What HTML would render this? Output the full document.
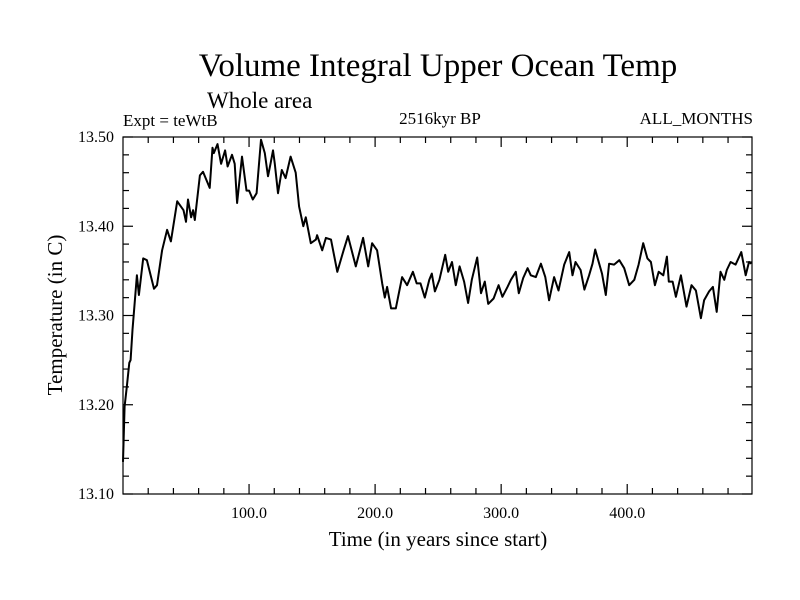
<!DOCTYPE html>
<html><head><meta charset="utf-8"><style>
html,body{margin:0;padding:0;background:#fff;}
svg{display:block;font-family:"Liberation Serif",serif;}
</style></head><body>
<svg id="chart" width="800" height="600" viewBox="0 0 800 600" xmlns="http://www.w3.org/2000/svg">
<rect width="800" height="600" fill="#fff"/>
<text x="438" y="76" font-size="33" text-anchor="middle">Volume Integral Upper Ocean Temp</text>
<text x="207" y="108" font-size="23">Whole area</text>
<text x="123" y="126" font-size="17">Expt = teWtB</text>
<text x="440" y="124" font-size="17" text-anchor="middle">2516kyr BP</text>
<text x="753" y="124" font-size="17" text-anchor="end">ALL_MONTHS</text>
<g id="axes"></g>
<path id="series" fill="none" stroke="#000" stroke-width="2" stroke-linejoin="round"/>
<rect x="123" y="137" width="629" height="357" fill="none" stroke="#000" stroke-width="1.2"/>
<text x="438" y="546" font-size="21" text-anchor="middle">Time (in years since start)</text>
<text x="0" y="0" font-size="21" text-anchor="middle" transform="translate(62,315) rotate(-90)">Temperature (in C)</text>
</svg>
<script>
const years=[0,1.3,3,5,6,7.5,11,12.6,16,19,24.6,27,31,35,38,43,48,50,51.6,54,55.6,57,61,63.5,66.7,68.8,71,72,75,77.8,81,83,86.5,88.6,90.5,94.4,98,100,103,106,109.5,112.5,115,117,119,120.4,123,126,129,133,137,139.7,143,145,149,153,154,158,161,165,170,175,178.5,184.7,190.5,194.5,197.6,201.6,205.6,207.7,209.5,212.7,216.4,221.4,225.4,230,233,236,239.4,243,245,247.4,251,255.6,258,261,264,267,270.6,273.8,276.7,281,284,287,289.7,294,298,301,305,307.7,311.6,314,317.5,321,323.5,327.5,331.5,335,338,342,345.5,350,354,356.6,359,363,366,369.8,372.5,374.6,377,380,383,385.6,389.6,393.7,397.6,401.6,405.6,409,412.7,416,418.8,422,425,428.6,431.5,433,436,438.6,442.6,447,451,454.5,458.5,461,465,468,471,474,477,479,482,486,490.5,494,496.6,498.5];
const temps=[13.136,13.198,13.22,13.247,13.25,13.284,13.345,13.323,13.364,13.362,13.33,13.334,13.373,13.396,13.383,13.428,13.418,13.405,13.43,13.41,13.418,13.407,13.457,13.461,13.45,13.443,13.488,13.482,13.492,13.47,13.485,13.467,13.48,13.47,13.426,13.478,13.44,13.44,13.43,13.437,13.497,13.482,13.456,13.47,13.485,13.47,13.437,13.463,13.454,13.478,13.46,13.422,13.40,13.41,13.381,13.385,13.39,13.373,13.387,13.385,13.349,13.373,13.389,13.355,13.387,13.355,13.381,13.373,13.336,13.32,13.332,13.308,13.308,13.343,13.334,13.349,13.336,13.336,13.32,13.34,13.347,13.327,13.34,13.368,13.349,13.36,13.334,13.355,13.338,13.314,13.34,13.365,13.325,13.338,13.313,13.319,13.334,13.321,13.332,13.34,13.349,13.325,13.342,13.353,13.345,13.343,13.358,13.343,13.317,13.343,13.328,13.357,13.371,13.345,13.36,13.351,13.329,13.345,13.358,13.374,13.362,13.347,13.323,13.358,13.357,13.362,13.353,13.334,13.34,13.357,13.381,13.364,13.36,13.334,13.349,13.345,13.366,13.338,13.338,13.321,13.345,13.31,13.334,13.328,13.297,13.317,13.327,13.332,13.304,13.349,13.34,13.351,13.36,13.357,13.371,13.345,13.36,13.358];
const yTickLabels=["13.10","13.20","13.30","13.40","13.50"];
const yTickValues=[13.1,13.2,13.3,13.4,13.5];
const xTickLabels=["100.0","200.0","300.0","400.0"];
const xTickValues=[100,200,300,400];

const L=123,R=752,T=137,B=494,X0=0,X1=499,Y0=13.1,Y1=13.5;
function xs(v){return L+(v-X0)/(X1-X0)*(R-L);}
function ys(v){return B-(v-Y0)/(Y1-Y0)*(B-T);}
const NS="http://www.w3.org/2000/svg";
const axes=document.getElementById('axes');
function ln(x1,y1,x2,y2,name){
  const l=document.createElementNS(NS,'line');
  l.setAttribute('x1',x1);l.setAttribute('y1',y1);l.setAttribute('x2',x2);l.setAttribute('y2',y2);
  l.setAttribute('stroke','#000');l.setAttribute('stroke-width','1.2');
  
  
  axes.appendChild(l);
}
function tx(x,y,s,anchor,name){
  const t=document.createElementNS(NS,'text');
  t.setAttribute('x',x);t.setAttribute('y',y);t.setAttribute('font-size','16');t.setAttribute('text-anchor',anchor);
  t.textContent=s;
  
  
  axes.appendChild(t);
}
// y ticks
for(let v=13.1;v<=13.5001;v+=0.02){
  const y=ys(v);const major=Math.abs((v*10)-Math.round(v*10))<1e-6;
  const len=major?10:6;
  ln(L,y,L+len,y,'y-tick');ln(R,y,R-len,y,'y-tick-right');
}
yTickValues.forEach((v,i)=>tx(L-9,ys(v)+5,yTickLabels[i],'end','y-tick-label'));
// x ticks
for(let v=20;v<X1;v+=20){
  const x=xs(v);const major=v%100===0;const len=major?10:6;
  ln(x,B,x,B-len,'x-tick');ln(x,T,x,T+len,'x-tick-top');
}
xTickValues.forEach((v,i)=>tx(xs(v),B+24,xTickLabels[i],'middle','x-tick-label'));
// series
let d='';
years.forEach((yr,i)=>{d+=(i?'L':'M')+xs(yr).toFixed(1)+' '+ys(temps[i]).toFixed(1);});
document.getElementById('series').setAttribute('d',d);
</script>
</body></html>
